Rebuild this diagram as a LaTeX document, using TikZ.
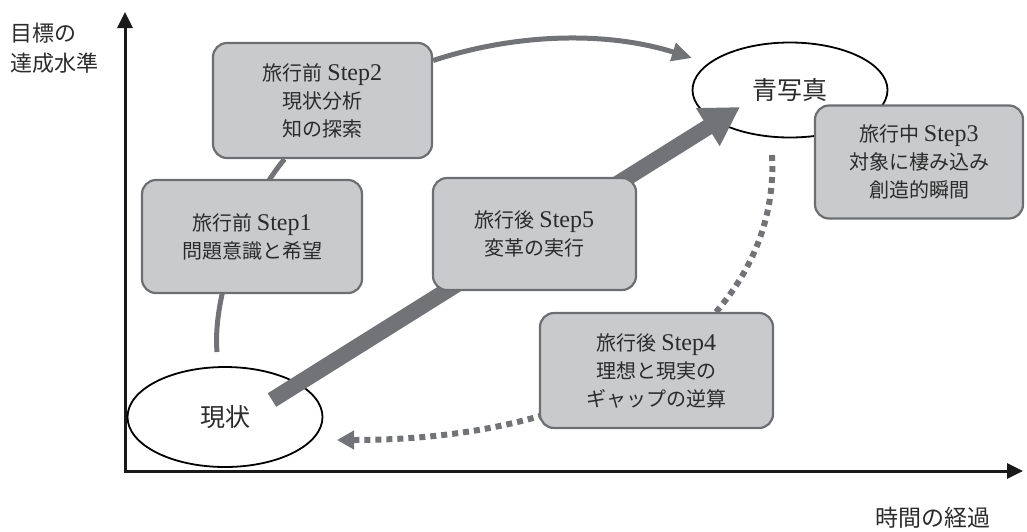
\documentclass[tikz,border=0pt]{standalone}
\usepackage{fontspec}
\setmainfont{Liberation Serif}
\newfontfamily\cjk{Noto Sans CJK JP}
\usetikzlibrary{arrows.meta,shapes.geometric}
\definecolor{boxfill}{HTML}{C9CACB}
\definecolor{boxline}{HTML}{6D6E71}
\definecolor{arrgray}{HTML}{727376}
\definecolor{txt}{HTML}{2B2B2B}
\newcommand\lat[1]{{\rmfamily\fontsize{24}{28}\selectfont #1}}
\begin{document}
\begin{tikzpicture}[x=1pt,y=-1pt,
  stepbox/.style={draw=boxline, line width=2.2pt, fill=boxfill, rounded corners=14pt,
    align=center, text=txt, inner sep=0pt, font=\fontsize{20}{28}\selectfont\cjk},
  goal/.style={ellipse, draw=black, line width=1.8pt, fill=white, inner sep=0pt,
    text=txt, font=\fontsize{25}{30}\selectfont\cjk},
  axis/.style={line width=3pt, draw=black!90, -{Triangle[length=16pt,width=15pt]}},
  axlabel/.style={text=txt, font=\fontsize{22}{30}\selectfont\cjk, inner sep=0pt},
  conn/.style={draw=arrgray, line width=5pt},
  bigarrow/.style={draw=arrgray, line width=16pt, -{Triangle[length=38pt,width=42pt]}},
  dotarrow/.style={draw=arrgray, line width=6pt, dash pattern=on 6pt off 5pt,
    -{Triangle[length=17pt,width=18pt]}}
]
\useasboundingbox (0,0) rectangle (1027,531);

% axes
\coordinate (o) at (125,471);
\coordinate (ytop) at (125,12);
\coordinate (xend) at (1023,471);
\coordinate (obot) at (125,472.5);
\coordinate (oleft) at (123.5,471);
\draw[axis] (obot) -- (ytop);
\draw[axis] (oleft) -- (xend);
\node[axlabel, anchor=west] (yl1) at (10,33) {目標の};
\node[axlabel, anchor=west] (yl2) at (10,63) {達成水準};
\node[axlabel, font=\fontsize{23}{30}\selectfont\cjk] (xl) at (933,518) {時間の経過};

% goal ellipses
\node[goal, minimum width=195pt, minimum height=100pt] (now) at (225,417) {現状};
\node[goal, minimum width=195pt, minimum height=95pt] (blue) at (790,90) {青写真};

% big arrow
\coordinate (a0) at (272,400);
\coordinate (a1) at (740,107);
\draw[bigarrow] (a0) -- (a1);

% dotted arrow
\coordinate (d0) at (772,155);
\coordinate (d1) at (337,440);
\draw[dotarrow] (d0) .. controls (780,300) and (640,440) .. (d1);

% boxes
\node[stepbox, minimum width=219pt, minimum height=115pt] (s2) at (322.5,100.5)
  {旅行前 \lat{Step2}\\現状分析\\知の探索};
\coordinate (c0) at (217,352);
\draw[conn] (c0) .. controls (212,290) and (250,200) .. ([xshift=-38pt]s2.south);
\node[stepbox, minimum width=220pt, minimum height=113pt] (s1) at (252,236.5)
  {旅行前 \lat{Step1}\\問題意識と希望};
\node[stepbox, minimum width=203pt, minimum height=112pt] (s5) at (534.5,234)
  {旅行後 \lat{Step5}\\変革の実行};
\node[stepbox, minimum width=208pt, minimum height=113pt] (s3) at (919,162)
  {旅行中 \lat{Step3}\\対象に棲み込み\\創造的瞬間};
\node[stepbox, minimum width=233pt, minimum height=115pt] (s4) at (656.5,370.5)
  {旅行後 \lat{Step4}\\理想と現実の\\ギャップの逆算};

% Step2 -> blueprint
\coordinate (p1) at (692,58);
\draw[conn, -{Triangle[length=20pt,width=18pt]}]
  ([yshift=40pt]s2.east) .. controls (520,32) and (610,32) .. (p1);
\end{tikzpicture}
\end{document}
